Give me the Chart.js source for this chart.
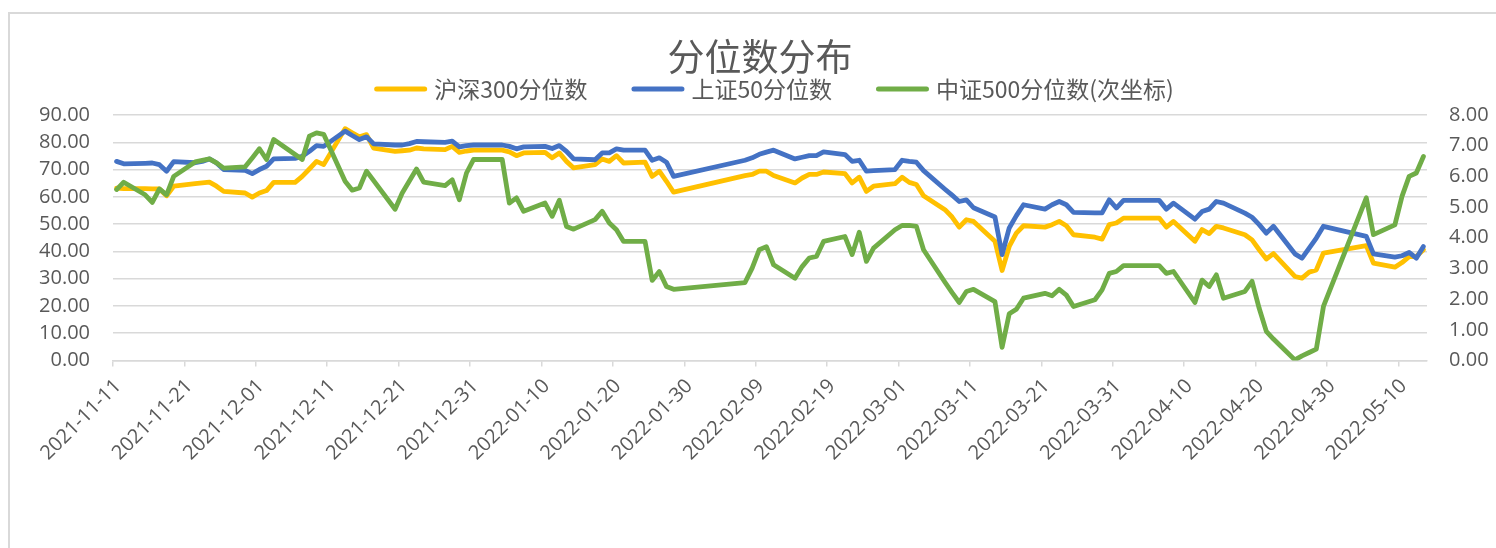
<!DOCTYPE html>
<html>
<head>
<meta charset="utf-8">
<script src="https://cdn.jsdelivr.net/npm/chart.js@4/dist/chart.umd.min.js"></script>
<style>
  html, body { margin: 0; padding: 0; background: #ffffff; }
  #wrap { position: relative; width: 1496px; height: 548px; overflow: hidden; }
  #frame { position: absolute; left: 8px; top: 12px; width: 1700px; height: 800px;
           border-left: 2px solid #d9d9d9; border-top: 2px solid #d9d9d9; }
  #c { position: absolute; left: 0; top: 0; }
</style>
</head>
<body>
<div id="wrap">
  <div id="frame"></div>
  <canvas id="c" width="1496" height="548"></canvas>
</div>
<script>
// ---------------- data ----------------
const chartTitle = "分位数分布";
const seriesNames = ["沪深300分位数", "上证50分位数", "中证500分位数(次坐标)"];

const dates = [
  "2021-11-11","2021-11-12","2021-11-15","2021-11-16","2021-11-17","2021-11-18","2021-11-19",
  "2021-11-22","2021-11-23","2021-11-24","2021-11-25","2021-11-26","2021-11-29","2021-11-30",
  "2021-12-01","2021-12-02","2021-12-03","2021-12-06","2021-12-07","2021-12-08","2021-12-09","2021-12-10",
  "2021-12-13","2021-12-14","2021-12-15","2021-12-16","2021-12-17","2021-12-20","2021-12-21","2021-12-22",
  "2021-12-23","2021-12-24","2021-12-27","2021-12-28","2021-12-29","2021-12-30","2021-12-31",
  "2022-01-04","2022-01-05","2022-01-06","2022-01-07","2022-01-10","2022-01-11","2022-01-12","2022-01-13",
  "2022-01-14","2022-01-17","2022-01-18","2022-01-19","2022-01-20","2022-01-21","2022-01-24","2022-01-25",
  "2022-01-26","2022-01-27","2022-01-28",
  "2022-02-07","2022-02-08","2022-02-09","2022-02-10","2022-02-11","2022-02-14","2022-02-15","2022-02-16",
  "2022-02-17","2022-02-18","2022-02-21","2022-02-22","2022-02-23","2022-02-24","2022-02-25","2022-02-28",
  "2022-03-01","2022-03-02","2022-03-03","2022-03-04","2022-03-07","2022-03-08","2022-03-09","2022-03-10",
  "2022-03-11","2022-03-14","2022-03-15","2022-03-16","2022-03-17","2022-03-18","2022-03-21","2022-03-22",
  "2022-03-23","2022-03-24","2022-03-25","2022-03-28","2022-03-29","2022-03-30","2022-03-31",
  "2022-04-01","2022-04-06","2022-04-07","2022-04-08","2022-04-11","2022-04-12","2022-04-13","2022-04-14",
  "2022-04-15","2022-04-18","2022-04-19","2022-04-20","2022-04-21","2022-04-22","2022-04-25","2022-04-26",
  "2022-04-27","2022-04-28","2022-04-29",
  "2022-05-05","2022-05-06","2022-05-09","2022-05-10","2022-05-11","2022-05-12","2022-05-13"
];

const hs300 = [
  63.2, 63.0, 63.0, 62.9, 62.9, 60.4, 63.9, 64.8, 65.1, 65.4, 63.9, 62.0, 61.4, 59.9,
  61.4, 62.3, 65.3, 65.3, 67.5, 70.2, 73.0, 71.8, 85.0, 83.5, 82.0, 82.8, 77.9, 76.7, 76.9, 77.1,
  77.9, 77.6, 77.3, 78.5, 76.3, 76.8, 77.1,
  77.1, 76.5, 75.1, 76.1, 76.3, 74.3, 76.1, 73.0, 70.6, 71.8, 73.9, 73.0, 75.1, 72.4, 72.7, 67.5,
  69.4, 65.7, 61.7,
  67.8, 68.2, 69.4, 69.4, 67.8, 65.1, 66.9, 68.2, 68.2, 69.1, 68.5, 65.1, 67.2, 62.0, 63.9, 64.8,
  67.2, 65.3, 64.5, 60.4, 55.3, 52.6, 48.9, 51.6, 51.0, 43.7, 33.0, 41.8, 46.7, 49.4, 48.9, 49.8,
  51.0, 49.4, 46.1, 45.2, 44.5, 49.8, 50.4,
  52.2, 52.2, 48.9, 51.0, 43.7, 48.0, 46.5, 49.2, 48.6, 46.1, 44.2, 40.6, 37.2, 39.2, 30.8, 30.2,
  32.4, 33.2, 39.4,
  42.1, 35.7, 34.2, 35.9, 38.1, 38.1, 40.6
];

const sz50 = [
  73.0, 72.1, 72.3, 72.4, 71.8, 69.4, 72.9, 72.5, 73.0, 73.9, 72.4, 70.0, 69.7, 68.5,
  70.0, 71.2, 73.9, 74.1, 74.9, 76.7, 78.8, 78.5, 84.1, 82.5, 81.0, 82.0, 79.4, 79.0, 79.0, 79.5,
  80.3, 80.2, 80.0, 80.4, 78.3, 78.8, 79.0,
  79.0, 78.5, 77.6, 78.3, 78.5, 77.7, 78.8, 76.7, 73.9, 73.6, 76.1, 76.1, 77.6, 77.1, 77.1, 73.4,
  74.3, 72.7, 67.5,
  73.4, 74.3, 75.6, 76.4, 77.1, 73.9, 74.5, 75.1, 75.1, 76.5, 75.5, 73.0, 73.4, 69.4, 69.6, 70.0,
  73.4, 73.0, 72.7, 69.6, 62.8, 60.6, 58.3, 58.9, 56.0, 52.6, 38.8, 48.6, 53.1, 57.1, 55.5, 57.1,
  58.3, 57.1, 54.3, 54.1, 54.1, 58.9, 55.9,
  58.7, 58.7, 55.5, 57.7, 51.8, 54.6, 55.5, 58.3, 57.7, 54.0, 52.5, 49.8, 46.7, 49.2, 39.1, 37.5,
  41.2, 44.9, 49.2,
  45.5, 39.1, 37.9, 38.4, 39.6, 37.5, 41.8
];

const zz500 = [
  5.57, 5.81, 5.40, 5.15, 5.59, 5.40, 6.00, 6.47, 6.52, 6.57, 6.44, 6.27, 6.31, 6.60,
  6.90, 6.55, 7.20, 6.71, 6.55, 7.31, 7.42, 7.37, 5.84, 5.55, 5.62, 6.17, 5.86, 4.93, 5.46, 5.85,
  6.24, 5.81, 5.70, 5.89, 5.24, 6.11, 6.55,
  6.55, 5.13, 5.30, 4.86, 5.13, 4.70, 5.22, 4.37, 4.28, 4.59, 4.86, 4.48, 4.26, 3.88, 3.88, 2.61,
  2.90, 2.41, 2.32,
  2.54, 3.01, 3.61, 3.71, 3.12, 2.68, 3.06, 3.34, 3.39, 3.88, 4.04, 3.45, 4.18, 3.23, 3.66, 4.26,
  4.40, 4.40, 4.37, 3.61, 2.55, 2.21, 1.89, 2.25, 2.32, 1.92, 0.43, 1.52, 1.67, 2.03, 2.19, 2.11,
  2.32, 2.13, 1.76, 1.98, 2.30, 2.84, 2.90,
  3.09, 3.09, 2.84, 2.90, 1.89, 2.62, 2.41, 2.79, 2.03, 2.25, 2.58, 1.70, 0.95, 0.70, 0.02, 0.15,
  0.26, 0.37, 1.76,
  5.30, 4.10, 4.42, 5.35, 6.00, 6.11, 6.65
];

const axisStartDate = "2021-11-11";   // first x tick
const axisEndDays = 184;               // axis ends on 2022-05-14
const xTickStepDays = 10;
const leftTicks = { min: 0, max: 90, step: 10 };
const rightTicks = { min: 0, max: 8, step: 1 };

// ---------------- helpers ----------------
const DAY = 86400000;
function toUTC(s) { const p = s.split("-").map(Number); return Date.UTC(p[0], p[1] - 1, p[2]); }
const base = toUTC(axisStartDate);
function dayIndex(s) { return (toUTC(s) - base) / DAY; }
function fmtDay(v) { return new Date(base + Math.round(v) * DAY).toISOString().slice(0, 10); }
// Excel date axis puts each point in the middle of its day ("between tick marks")
const dayCenter = 0.5;
function pts(vals) { return dates.map((d, i) => ({ x: dayIndex(d) + dayCenter, y: vals[i] })); }

const TXT = "#595959";
const GRID = "#d9d9d9";
const tickFont = { family: "'Open Sans', 'DejaVu Sans', sans-serif", size: 20 };
const cjkFont = "'Noto Sans CJK SC', 'Noto Sans', sans-serif";

const colors = ["#FFC000", "#4472C4", "#70AD47"];

const headerPlugin = {
  id: "header",
  afterDraw(chart) {
    const ctx = chart.ctx;
    ctx.save();
    ctx.fillStyle = TXT;
    ctx.textBaseline = "middle";
    // title
    ctx.font = "37px " + cjkFont;
    ctx.textAlign = "center";
    ctx.fillText(chartTitle, 760, 57);
    // legend (centred, Excel-like line markers)
    ctx.textAlign = "left";
    ctx.font = "23px " + cjkFont;
    const mark = 53, gapText = 7, gapItem = 44;
    const widths = chart.data.datasets.map((ds) => ctx.measureText(ds.label).width);
    let total = 0;
    widths.forEach((w, i) => { total += mark + gapText + w + (i ? gapItem : 0); });
    let x = 774 - total / 2;
    const y = 89;
    chart.data.datasets.forEach((ds, i) => {
      ctx.strokeStyle = ds.borderColor;
      ctx.lineWidth = 5;
      ctx.lineCap = "round";
      ctx.beginPath();
      ctx.moveTo(x + 2.5, y);
      ctx.lineTo(x + mark - 2.5, y);
      ctx.stroke();
      ctx.fillStyle = TXT;
      ctx.fillText(ds.label, x + mark + gapText, y);
      x += mark + gapText + widths[i] + gapItem;
    });
    ctx.restore();
  }
};

new Chart(document.getElementById("c"), {
  type: "line",
  data: {
    datasets: [
      { label: seriesNames[0], data: pts(hs300), borderColor: colors[0], backgroundColor: colors[0], yAxisID: "y", order: 3 },
      { label: seriesNames[1], data: pts(sz50), borderColor: colors[1], backgroundColor: colors[1], yAxisID: "y", order: 2 },
      { label: seriesNames[2], data: pts(zz500), borderColor: colors[2], backgroundColor: colors[2], yAxisID: "y1", order: 1 }
    ]
  },
  options: {
    responsive: false,
    animation: false,
    devicePixelRatio: 1,
    layout: { padding: { top: 115, left: 0, right: 0, bottom: 0 } },
    elements: {
      point: { radius: 0, hoverRadius: 0 },
      line: { tension: 0, borderWidth: 4.8, borderJoinStyle: "round", borderCapStyle: "round", fill: false }
    },
    plugins: { legend: { display: false }, title: { display: false }, tooltip: { enabled: false } },
    scales: {
      x: {
        type: "linear",
        min: 0,
        max: axisEndDays,
        ticks: {
          stepSize: xTickStepDays,
          includeBounds: false,
          autoSkip: false,
          maxRotation: 45,
          minRotation: 45,
          padding: 8,
          labelOffset: 5,
          color: TXT,
          font: tickFont,
          callback: (v) => fmtDay(v)
        },
        grid: { drawOnChartArea: false, drawTicks: true, tickLength: 6, color: GRID, lineWidth: 1.5 },
        border: { display: true, color: GRID, width: 1.5 },
        afterFit: (s) => { s.height = 187.5; }
      },
      y: {
        position: "left",
        min: leftTicks.min,
        max: leftTicks.max,
        ticks: { stepSize: leftTicks.step, padding: 23, color: TXT, font: tickFont, callback: (v) => Number(v).toFixed(2) },
        grid: { color: GRID, lineWidth: 1.5, drawTicks: false },
        border: { display: false },
        afterFit: (s) => { s.width = 113; }
      },
      y1: {
        position: "right",
        min: rightTicks.min,
        max: rightTicks.max,
        ticks: { stepSize: rightTicks.step, padding: 22, color: TXT, font: tickFont, callback: (v) => Number(v).toFixed(2) },
        grid: { drawOnChartArea: false, drawTicks: false },
        border: { display: false },
        afterFit: (s) => { s.width = 69; }
      }
    }
  },
  plugins: [headerPlugin]
});
</script>
</body>
</html>
